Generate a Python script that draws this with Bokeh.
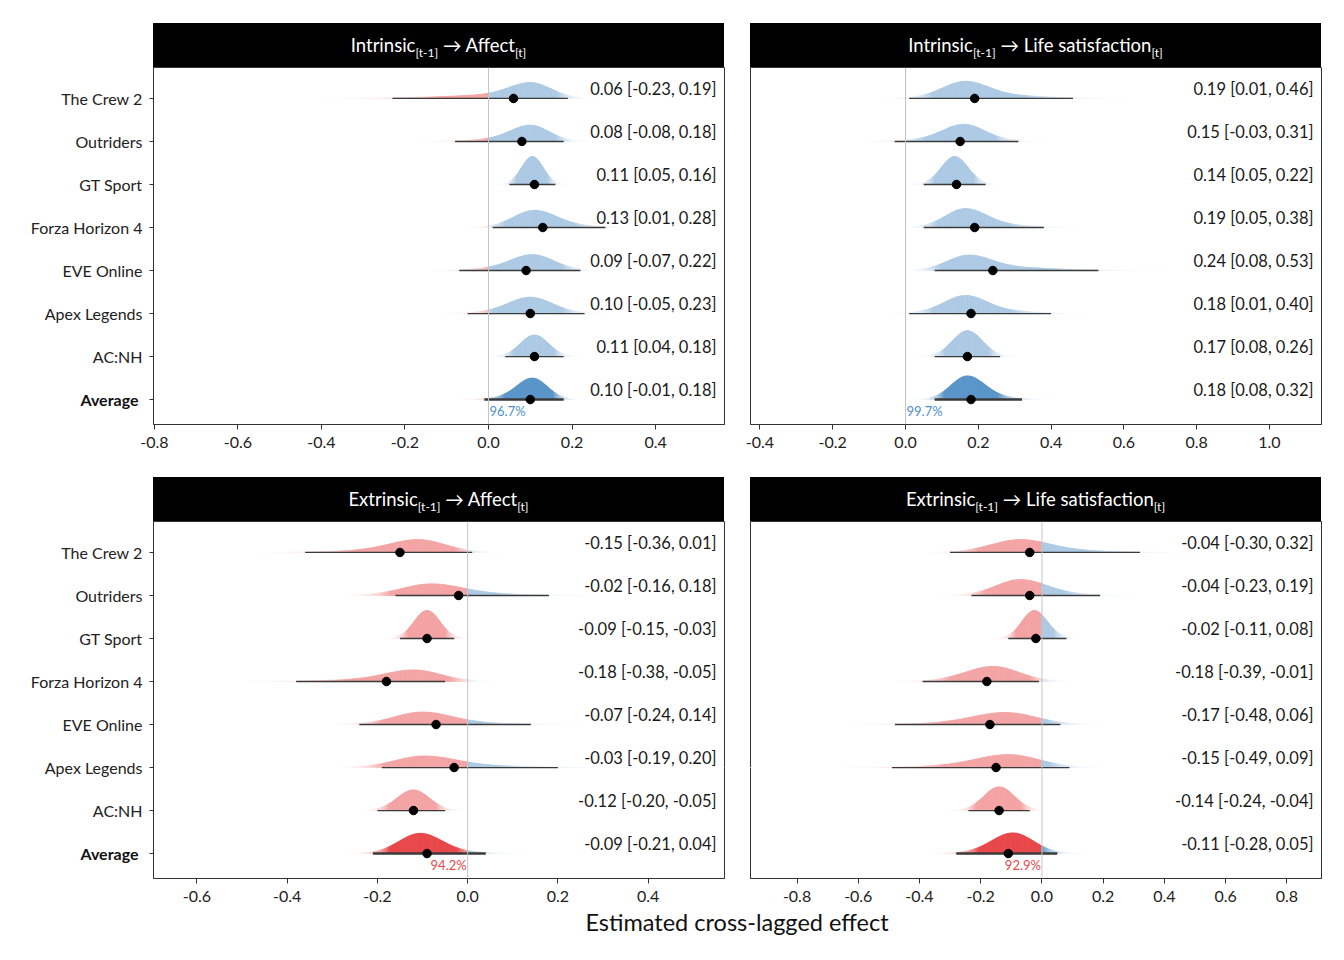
import numpy as np
from bokeh.plotting import figure
from bokeh.models import (Range1d, FixedTicker, PrintfTickFormatter, Div, Spacer, Span,
                          LinearAxis)
from bokeh.layouts import row, column
from bokeh.embed import file_html
from bokeh.resources import INLINE
from bokeh.core.properties import value

FONT = "Lato"

games = ["The Crew 2", "Outriders", "GT Sport", "Forza Horizon 4",
         "EVE Online", "Apex Legends", "AC:NH", "Average"]

# ---- Panel: Intrinsic -> Affect ----
tl_title = "Intrinsic<sub>[t-1]</sub> → Affect<sub>[t]</sub>"
tl_est = [0.06, 0.08, 0.11, 0.13, 0.09, 0.10, 0.11, 0.10]
tl_lo = [-0.23, -0.08, 0.05, 0.01, -0.07, -0.05, 0.04, -0.01]
tl_hi = [0.19, 0.18, 0.16, 0.28, 0.22, 0.23, 0.18, 0.18]
tl_mode = [0.10, 0.10, 0.105, 0.11, 0.105, 0.10, 0.11, 0.105]
tl_sd = [0.05, 0.045, 0.025, 0.05, 0.05, 0.05, 0.033, 0.035]
tl_ht = [0.37, 0.38, 0.65, 0.40, 0.37, 0.38, 0.50, 0.50]
tl_pct = "96.7%"
tl_xr = (-0.802, 0.565)
tl_ticks = [-0.8, -0.6, -0.4, -0.2, 0.0, 0.2, 0.4]

# ---- Panel: Intrinsic -> Life satisfaction ----
tr_title = "Intrinsic<sub>[t-1]</sub> → Life satisfaction<sub>[t]</sub>"
tr_est = [0.19, 0.15, 0.14, 0.19, 0.24, 0.18, 0.17, 0.18]
tr_lo = [0.01, -0.03, 0.05, 0.05, 0.08, 0.01, 0.08, 0.08]
tr_hi = [0.46, 0.31, 0.22, 0.38, 0.53, 0.40, 0.26, 0.32]
tr_mode = [0.165, 0.16, 0.135, 0.165, 0.175, 0.165, 0.17, 0.17]
tr_sd = [0.06, 0.055, 0.035, 0.055, 0.06, 0.055, 0.04, 0.045]
tr_ht = [0.40, 0.40, 0.65, 0.44, 0.36, 0.42, 0.60, 0.55]
tr_pct = "99.7%"
tr_xr = (-0.426, 1.143)
tr_ticks = [-0.4, -0.2, 0.0, 0.2, 0.4, 0.6, 0.8, 1.0]

# ---- Panel: Extrinsic -> Affect ----
bl_title = "Extrinsic<sub>[t-1]</sub> → Affect<sub>[t]</sub>"
bl_est = [-0.15, -0.02, -0.09, -0.18, -0.07, -0.03, -0.12, -0.09]
bl_lo = [-0.36, -0.16, -0.15, -0.38, -0.24, -0.19, -0.20, -0.21]
bl_hi = [0.01, 0.18, -0.03, -0.05, 0.14, 0.20, -0.05, 0.04]
bl_mode = [-0.11, -0.08, -0.09, -0.12, -0.10, -0.095, -0.12, -0.105]
bl_sd = [0.06, 0.065, 0.028, 0.06, 0.06, 0.065, 0.035, 0.045]
bl_ht = [0.30, 0.27, 0.65, 0.27, 0.29, 0.27, 0.48, 0.47]
bl_pct = "94.2%"
bl_xr = (-0.696, 0.569)
bl_ticks = [-0.6, -0.4, -0.2, 0.0, 0.2, 0.4]

# ---- Panel: Extrinsic -> Life satisfaction ----
br_title = "Extrinsic<sub>[t-1]</sub> → Life satisfaction<sub>[t]</sub>"
br_est = [-0.04, -0.04, -0.02, -0.18, -0.17, -0.15, -0.14, -0.11]
br_lo = [-0.30, -0.23, -0.11, -0.39, -0.48, -0.49, -0.24, -0.28]
br_hi = [0.32, 0.19, 0.08, -0.01, 0.06, 0.09, -0.04, 0.05]
br_mode = [-0.07, -0.07, -0.025, -0.16, -0.12, -0.11, -0.14, -0.095]
br_sd = [0.09, 0.08, 0.04, 0.085, 0.10, 0.10, 0.05, 0.065]
br_ht = [0.30, 0.37, 0.65, 0.35, 0.28, 0.30, 0.55, 0.48]
br_pct = "92.9%"
br_xr = (-0.952, 0.913)
br_ticks = [-0.8, -0.6, -0.4, -0.2, 0.0, 0.2, 0.4, 0.6, 0.8]

x_label = "Estimated cross-lagged effect"

BLUE = (91, 149, 201)
RED = (232, 72, 74)
BLUE_HEX = "#4f8fcb"
RED_HEX = "#e8474b"

LEFT_PAD = 153


def mix(c, a):
    r = [int(round(255 + (ci - 255) * a)) for ci in c]
    return "#%02x%02x%02x" % tuple(r)


def style_axis(ax):
    ax.axis_line_color = "#333333"
    ax.major_tick_line_color = "#333333"
    ax.major_tick_out = 5
    ax.major_tick_in = 0
    ax.minor_tick_line_color = None
    ax.major_label_text_font = FONT
    ax.major_label_text_font_size = "16px"
    ax.major_label_text_color = "#222222"


def make_panel(est, lo, hi, mode, sd, ht, xr, ticks, pct, left, pos_side):
    n = len(games)
    rows = [n - i for i in range(n)]  # The Crew 2 at top (8), Average at 1
    kw = dict(frame_width=571, frame_height=357, output_backend="svg",
              toolbar_location=None, x_range=Range1d(*xr),
              y_range=Range1d(0.42, 8.72), min_border_top=0)
    if left:
        kw.update(min_border_left=LEFT_PAD, min_border_right=16)
    else:
        kw.update(min_border_left=10, min_border_right=8, y_axis_location=None)
    p = figure(**kw)
    p.xgrid.visible = False
    p.ygrid.visible = False
    p.outline_line_color = "#333333"
    p.outline_line_width = 1
    p.background_fill_color = "white"
    p.border_fill_color = "white"

    for i in range(n):
        b = rows[i]
        is_avg = games[i] == "Average"
        base_a = 1.0 if is_avg else 0.5
        m, s = mode[i], sd[i]
        stl = max(s, (m - lo[i]) / 2.0)
        str_ = max(s, (hi[i] - m) / 2.0)
        x = np.linspace(m - 4.5 * stl, m + 4.5 * str_, 260)
        if x[0] < 0 < x[-1]:
            x = np.union1d(x, [0.0])
        d = x - m
        st = np.where(d < 0, stl, str_)
        f = 0.72 * np.exp(-0.5 * (d / s) ** 2) + 0.28 * np.exp(-0.5 * (d / st) ** 2)
        f = f / f.max() * ht[i]
        cdf = np.concatenate([[0], np.cumsum(0.5 * (f[1:] + f[:-1]) * np.diff(x))])
        cdf = cdf / cdf[-1]
        xs, ys, cols = [], [], []
        for j in range(len(x) - 1):
            xm = 0.5 * (x[j] + x[j + 1])
            cm = 0.5 * (cdf[j] + cdf[j + 1])
            fade = min(1.0, 2 * min(cm, 1 - cm) / 0.15) ** 0.8
            c = BLUE if xm > 0 else RED
            xs.append([x[j], x[j], x[j + 1], x[j + 1]])
            ys.append([b, b + f[j], b + f[j + 1], b])
            cols.append(mix(c, base_a * fade))
        p.patches(xs, ys, fill_color=cols, line_color=cols, line_width=0.8)

    seg_w = [2.4 if g == "Average" else 1.3 for g in games]
    p.segment(x0=lo, x1=hi, y0=rows, y1=rows, line_color="#3a3a3a", line_width=seg_w)
    p.scatter(x=est, y=rows, size=8.5, fill_color="black", line_color="black")

    p.add_layout(Span(location=0, dimension="height", line_color="#c4c4c4", line_width=1))

    labels = ["%.2f [%.2f, %.2f]" % (e, l, h) for e, l, h in zip(est, lo, hi)]
    p.text(x=[xr[1]] * n, y=[r + 0.23 for r in rows], text=labels, x_offset=-8,
           text_align="right", text_baseline="middle", text_font=value(FONT),
           text_font_size="16.5px", text_color="#1a1a1a")

    pcol = BLUE_HEX if pos_side else RED_HEX
    p.text(x=[0.0], y=[1 - 0.27], text=[pct], x_offset=(1 if pos_side else -1),
           text_align=("left" if pos_side else "right"), text_baseline="middle",
           text_font=value(FONT), text_font_size="13px", text_color=pcol)

    p.xaxis.ticker = FixedTicker(ticks=ticks)
    p.xaxis.formatter = PrintfTickFormatter(format="%.1f")
    for ax in p.axis:
        style_axis(ax)
    p.xaxis.major_label_standoff = 7
    if left:
        p.yaxis.ticker = FixedTicker(ticks=rows)
        p.yaxis.major_label_overrides = {r: (g if g != "Average" else "") for r, g in zip(rows, games)}
        p.yaxis.major_tick_out = 4
        p.yaxis.major_label_standoff = 7
        # second axis carrying the bold "Average" label, pulled back next to the frame
        avg_ax = LinearAxis(ticker=FixedTicker(ticks=[1]), major_label_overrides={1: "Average"})
        style_axis(avg_ax)
        avg_ax.axis_line_color = None
        avg_ax.major_tick_line_color = None
        avg_ax.major_tick_out = 0
        avg_ax.major_label_text_font_style = "bold"
        avg_ax.major_label_text_color = "#111111"
        avg_ax.major_label_standoff = -111
        p.add_layout(avg_ax, "left")
    return p


def strip(title):
    html = ('<div style="width:571px;height:44px;line-height:44px;background:#000;'
            'color:#fff;text-align:center;font-family:Lato;font-size:18.5px;">%s</div>' % title)
    html = html.replace("<sub>", '<sub style="font-size:12px;line-height:0;">')
    return Div(text=html, width=571, height=44, margin=0,
               styles={"background-color": "black"})


p_tl = make_panel(tl_est, tl_lo, tl_hi, tl_mode, tl_sd, tl_ht, tl_xr, tl_ticks, tl_pct, True, True)
p_tr = make_panel(tr_est, tr_lo, tr_hi, tr_mode, tr_sd, tr_ht, tr_xr, tr_ticks, tr_pct, False, True)
p_bl = make_panel(bl_est, bl_lo, bl_hi, bl_mode, bl_sd, bl_ht, bl_xr, bl_ticks, bl_pct, True, False)
p_br = make_panel(br_est, br_lo, br_hi, br_mode, br_sd, br_ht, br_xr, br_ticks, br_pct, False, False)
p_tl.min_border_bottom = 53
p_tr.min_border_bottom = 53
p_bl.min_border_bottom = 32
p_br.min_border_bottom = 32

xlab = Div(text=('<div style="width:1168px;text-align:center;font-family:Lato;font-size:23.5px;'
                 'line-height:24px;color:#111;">%s</div>' % x_label),
           width=1168, height=26, margin=0)

layout = column(
    Spacer(height=23, margin=0),
    row(Spacer(width=LEFT_PAD, margin=0), strip(tl_title), Spacer(width=26, margin=0), strip(tr_title)),
    row(p_tl, p_tr),
    row(Spacer(width=LEFT_PAD, margin=0), strip(bl_title), Spacer(width=26, margin=0), strip(br_title)),
    row(p_bl, p_br),
    row(Spacer(width=LEFT_PAD, margin=0), xlab),
)

open("out.html", "w").write(file_html(layout, INLINE))
